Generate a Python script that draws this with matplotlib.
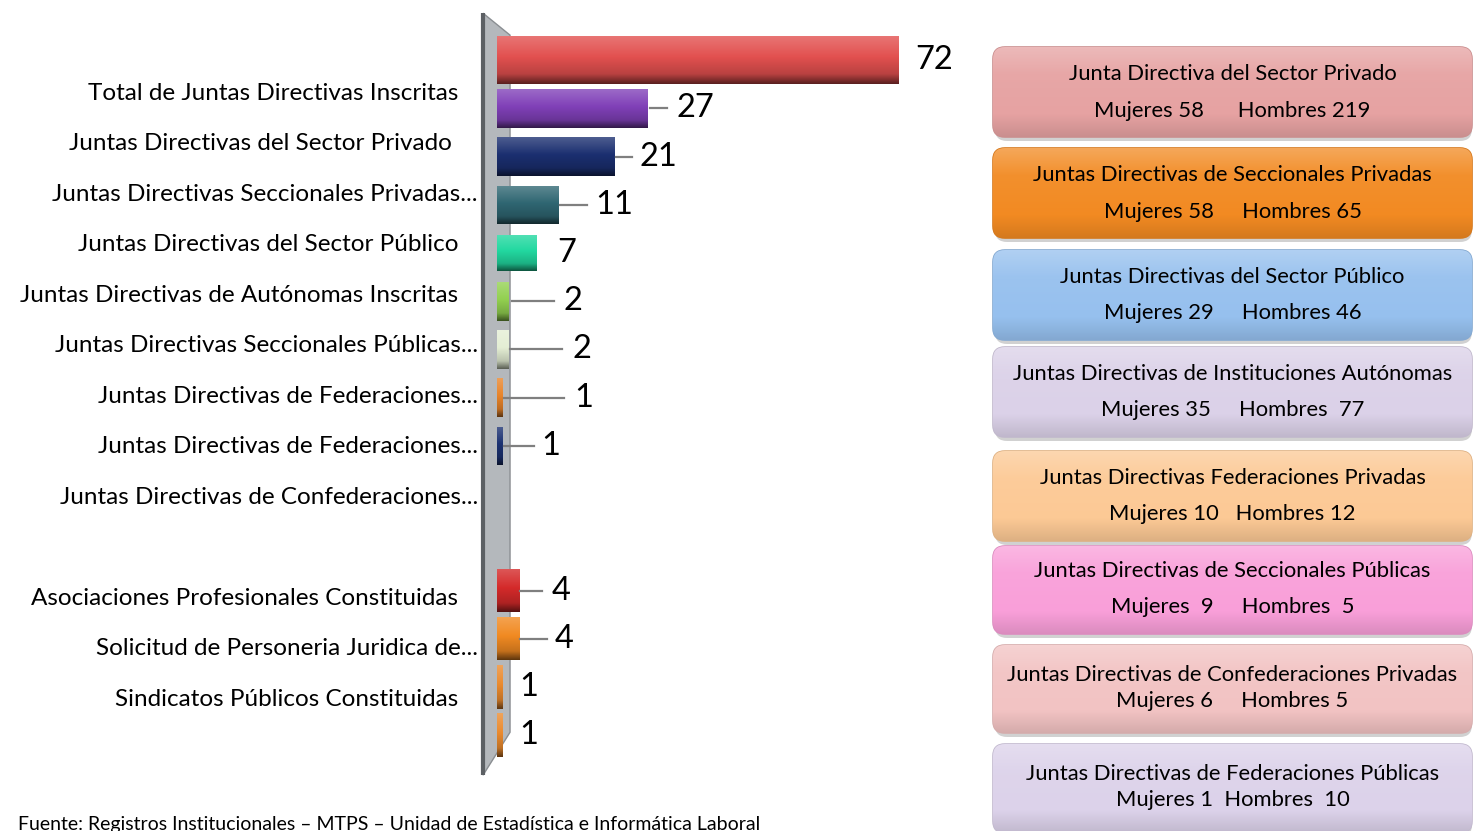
import numpy as np
import matplotlib
matplotlib.use("Agg")
import matplotlib.pyplot as plt
from matplotlib.patches import FancyBboxPatch, Polygon
from matplotlib.colors import to_rgb
from matplotlib import transforms

plt.rcParams['font.family'] = ['Lato', 'DejaVu Sans']

# ---------------- data ----------------
categories = [
    "Total de Juntas Directivas Inscritas",
    "Juntas Directivas del Sector Privado ",
    "Juntas Directivas Seccionales Privadas...",
    "Juntas Directivas del Sector Público",
    "Juntas Directivas de Autónomas Inscritas",
    "Juntas Directivas Seccionales Públicas...",
    "Juntas Directivas de Federaciones...",
    "Juntas Directivas de Federaciones...",
    "Juntas Directivas de Confederaciones...",
    "",
    "Asociaciones Profesionales Constituidas",
    "Solicitud de Personeria Juridica de...",
    "Sindicatos Públicos Constituidas",
]
bar_values = [72, 27, 21, 11, 7, 2, 2, 1, 1, None, None, 4, 4, 1, 1]

box_titles = [
    "Junta Directiva del Sector Privado",
    "Juntas Directivas de Seccionales Privadas",
    "Juntas Directivas del Sector Público",
    "Juntas Directivas de Instituciones Autónomas",
    "Juntas Directivas Federaciones Privadas",
    "Juntas Directivas de Seccionales Públicas",
    "Juntas Directivas de Confederaciones Privadas",
    "Juntas Directivas de Federaciones Públicas",
]
box_mujeres = [58, 58, 29, 35, 10, 9, 6, 1]
box_hombres = [219, 65, 46, 77, 12, 5, 5, 10]

footer = "Fuente: Registros Institucionales \u2013 MTPS \u2013 Unidad de Estadística e Informática Laboral"

# ---------------- style ----------------
bar_colors = ['#e2504f', '#8040b8', '#1b2f70', '#2f6672', '#22d8a0', '#92d050',
              '#e4eed4', '#e8842a', '#1c3272', None, None, '#d42a2a', '#f18a22',
              '#ea8a2e', '#ea8a2e']
bar_heights = [1.0, 0.8, 0.8, 0.78, 0.76, 0.8, 0.8, 0.8, 0.8, 0, 0, 0.9, 0.9, 0.9, 0.9]
# (line start, line end, text x) offsets from the bar end, data units
lead = [(None, None, 2.9), (0.5, 3.5, 5.2), (0.3, 3.2, 4.6), (0.4, 5.2, 6.6),
        (None, None, 3.8), (0.7, 8.2, 10.0), (0.4, 9.7, 11.5), (0.25, 11.0, 12.9),
        (0.25, 5.6, 7.0), None, None, (0.1, 4.1, 5.9), (0.1, 5.0, 6.4),
        (None, None, 3.1), (None, None, 3.1)]

box_colors = ['#e6a2a2', '#f28a22', '#96c0ee', '#dbd1e8', '#fcc995', '#f99fd9',
              '#f2c3c3', '#dcd2ea']
box_tops = [47, 148, 250, 347, 451, 546, 645, 744]
box_bots = [137, 238, 340, 437, 541, 634, 733, 833]
box_line_off = [(27, 64), (27, 64), (27, 63), (27, 63), (27, 63), (25, 61), (30, 56), (30, 56)]
box_sep = ["      ", "     ", "     ", "     ", "   ", "     ", "     ", "  "]
box_mpad = ["", "", "", "", "", " ", "", ""]
box_hpad = ["", "", "", " ", "", " ", "", " "]

W, H = 1473, 831
fig = plt.figure(figsize=(W / 100, H / 100), dpi=100)
fig.patch.set_facecolor('white')


def mix(c, f):
    r = np.array(to_rgb(c))
    if f >= 0:
        return r + (1 - r) * f
    return r * (1 + f)


def grad_img(c, stops):
    t = np.linspace(0, 1, 64)
    ts = [s[0] for s in stops]
    cols = np.array([mix(c, s[1]) for s in stops])
    img = np.zeros((64, 1, 3))
    for k in range(3):
        img[:, 0, k] = np.interp(t, ts, cols[:, k])
    return np.clip(img, 0, 1)


# ---------------- bar axes ----------------
ax = fig.add_axes([480 / W, (H - 780) / H, 480 / W, 768 / H])
ax.set_xlim(-2.69, 83.3)
ax.set_ylim(14.93, -1.0)
ax.axis('off')

# 3D-ish wall
wall = Polygon([(-2.15, -0.975), (2.69, -0.52), (2.69, 13.94), (-2.15, 14.83)],
               closed=True, facecolor='#b4b8bc', edgecolor='#8a8e92', lw=1, zorder=1)
ax.add_patch(wall)
ax.plot([-2.15, -2.15], [-0.975, 14.83], color='#5c6064', lw=3, zorder=1.5,
        solid_capstyle='butt')

pos = [i for i, v in enumerate(bar_values) if v is not None]
vals = [bar_values[i] for i in pos]
bars = ax.barh(pos, vals, height=[bar_heights[i] for i in pos], left=0.3,
               color=[bar_colors[i] for i in pos], zorder=3)
stops = [(0, 0.22), (0.45, 0.0), (0.8, -0.18), (1.0, -0.6)]
for b, i in zip(bars, pos):
    x0, y0, w, h = b.get_x(), b.get_y(), b.get_width(), b.get_height()
    im = ax.imshow(grad_img(bar_colors[i], stops), extent=(x0, x0 + w, y0 + h, y0),
                   aspect='auto', zorder=3.5, interpolation='bilinear')
    im.set_clip_path(b)

for i, v in zip(pos, vals):
    L = lead[i]
    end = v + 0.3
    if L[0] is not None:
        ax.plot([end + L[0], end + L[1]], [i, i], color='#7f7f7f', lw=1.6, zorder=4)
    ax.text(end + L[2], i, str(v), fontsize=23.5, va='center', ha='left', color='black',
            zorder=5)

ax.set_xlim(-2.69, 83.3)
ax.set_ylim(14.93, -1.0)

# category labels
for j, lab in enumerate(categories):
    if not lab:
        continue
    ypos = 0.684 + 1.0475 * j
    off = -2 if lab.endswith('...') else -22
    tr = transforms.offset_copy(ax.get_yaxis_transform(), fig=fig, x=off, y=0, units='dots')
    ax.text(0, ypos, lab, transform=tr, ha='right', va='center', fontsize=17.5,
            color='black', clip_on=False)

# ---------------- right boxes (pixel overlay) ----------------
ov = fig.add_axes([0, 0, 1, 1])
ov.set_xlim(0, W)
ov.set_ylim(H, 0)
ov.axis('off')
ov.patch.set_alpha(0)

bx0, bx1 = 993, 1472
for k in range(len(box_titles)):
    y0, y1 = box_tops[k], box_bots[k]
    sh = FancyBboxPatch((bx0 + 2, y0 + 4), bx1 - bx0 - 2, y1 - y0,
                        boxstyle="round,pad=0,rounding_size=12",
                        facecolor='#9a9a9a', edgecolor='none', alpha=0.45, zorder=1)
    ov.add_patch(sh)
    p = FancyBboxPatch((bx0, y0), bx1 - bx0, y1 - y0,
                       boxstyle="round,pad=0,rounding_size=12",
                       facecolor=box_colors[k], edgecolor=mix(box_colors[k], -0.12),
                       lw=1.2, zorder=2)
    ov.add_patch(p)
    im = ov.imshow(grad_img(box_colors[k], [(0, 0.25), (0.3, 0.05), (0.75, 0.0), (1, -0.12)]),
                   extent=(bx0, bx1, y1, y0), aspect='auto', zorder=2.5,
                   interpolation='bilinear')
    im.set_clip_path(p)
    cx = (bx0 + bx1) / 2
    o1, o2 = box_line_off[k]
    ov.text(cx, y0 + o1, box_titles[k], ha='center', va='center', fontsize=15.8,
            color='black', zorder=3)
    line2 = f"Mujeres {box_mpad[k]}{box_mujeres[k]}{box_sep[k]}Hombres {box_hpad[k]}{box_hombres[k]}"
    ov.text(cx, y0 + o2, line2, ha='center', va='center', fontsize=15.8,
            color='black', zorder=3)

ov.text(18, 830, footer, ha='left', va='baseline', fontsize=14, color='black')

fig.savefig('out.png', dpi=100, facecolor='white')
